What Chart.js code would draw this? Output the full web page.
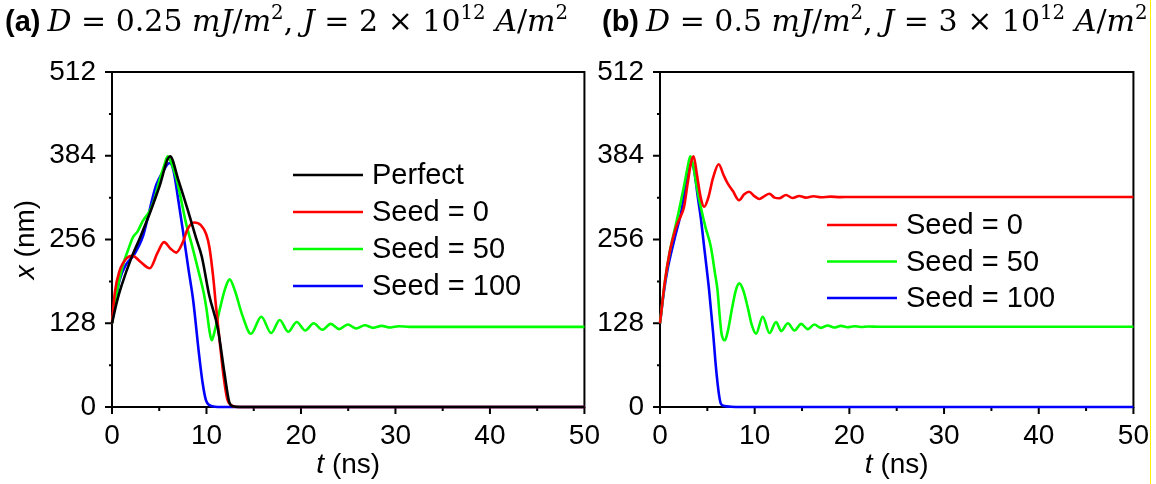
<!DOCTYPE html>
<html><head><meta charset="utf-8">
<script src="https://cdn.jsdelivr.net/npm/chart.js@4.4.1/dist/chart.umd.min.js"></script>
<style>
html,body{margin:0;padding:0;background:#fff;width:1156px;height:484px;overflow:hidden;position:relative}
canvas{position:absolute;top:0}
#ca{left:0}
#cb{left:556px}
.ttl{position:absolute;top:1px;white-space:nowrap;font-size:28px;line-height:40px;z-index:5;color:#000}
.ttl b{font-family:"Liberation Sans",Arial,sans-serif;font-weight:bold;font-size:29px}
.ttl .m{font-family:"DejaVu Serif",serif;font-size:30px}
.ttl sup{font-size:0.66em;vertical-align:0.6em;line-height:0}
#yl{position:absolute;left:1150px;top:0;width:1px;height:484px;background:#fff200;z-index:6}
</style></head>
<body>
<canvas id="ca" width="612" height="484"></canvas>
<canvas id="cb" width="605" height="484"></canvas>
<div class="ttl" id="ta" style="left:5px"><b>(a)</b> <span class="m"><i>D</i> = 0.25 <i>mJ</i>/<i>m</i><sup>2</sup>, <i>J</i> = 2 × 10<sup>12</sup> <i>A</i>/<i>m</i><sup>2</sup></span></div>
<div class="ttl" id="tb" style="left:602px"><b>(b)</b> <span class="m"><i>D</i> = 0.5 <i>mJ</i>/<i>m</i><sup>2</sup>, <i>J</i> = 3 × 10<sup>12</sup> <i>A</i>/<i>m</i><sup>2</sup></span></div>
<div id="yl"></div>
<script>
// ---- tick labels ----
const xTickLabels = [0, 10, 20, 30, 40, 50];
const xMinorTicks = [5, 15, 25, 35, 45];
const yTickLabels = [0, 128, 256, 384, 512];
const yMinorTicks = [64, 192, 320, 448];
const seriesLabels = ['Perfect', 'Seed = 0', 'Seed = 50', 'Seed = 100'];
const seriesColors = ['#000000', '#ff0000', '#00ff00', '#0000ff'];

// ---- panel (a) ----
const tA_perfect = [0, 0.5, 1, 2, 3, 4, 5, 6.15, 7, 8, 8.9, 9.5, 10.3, 11.2, 11.9, 12.4, 12.8, 13.5, 50];
const xA_perfect = [128, 160, 185, 226, 260, 296, 336, 383, 348, 302, 258, 230, 170, 120, 52, 8, 1, 0, 0];

const tA_seed0 = [0, 0.3, 0.8, 1.6, 2.2, 3.0, 4.0, 4.8, 5.5, 6.2, 6.8, 7.5, 8.0, 8.7, 9.4, 9.97, 10.3, 10.7, 11.0, 11.4, 11.8, 12.2, 12.6, 13.2, 50];
const xA_seed0 = [128, 175, 208, 228, 231, 222, 212, 235, 252, 242, 236, 252, 272, 282, 278, 264, 245, 200, 155, 100, 48, 12, 3, 0, 0];

const tA_seed50 = [0, 0.5, 1.1, 1.7, 2.2, 2.7, 3.25, 4.0, 4.5, 5.0, 5.5, 5.9, 6.3, 6.8, 7.3, 7.8, 8.5, 9.2, 9.7, 10.0, 10.3, 10.55, 10.9, 11.5, 12.0, 12.45, 13.0, 13.8, 14.7, 15.8, 16.85, 17.75, 18.65, 19.55, 20.45, 21.35, 22.25, 23.15, 24.05, 24.95, 25.85, 26.75, 27.65, 28.55, 29.45, 30.35, 31.5, 50];
const xA_seed50 = [128, 175, 214, 240, 259, 268, 284, 300, 318, 345, 368, 383, 372, 350, 318, 283, 245, 205, 175, 150, 118, 102, 118, 155, 182, 195, 178, 140, 112, 138, 113, 133, 115, 130, 117, 128, 118, 127, 119, 126, 120, 125, 121, 124, 121.5, 123.5, 122.5, 122.5];

const tA_seed100 = [0, 0.4, 0.8, 1.5, 2.3, 2.8, 3.3, 3.8, 4.3, 4.7, 5.4, 6.1, 6.5, 7.0, 7.5, 8.1, 8.6, 9.2, 9.6, 9.95, 10.3, 10.9, 11.6, 50];
const xA_seed100 = [128, 165, 194, 218, 232, 245, 262, 290, 320, 340, 360, 373, 362, 318, 270, 210, 162, 82, 36, 10, 3, 0.5, 0, 0];

// ---- panel (b) ----
const tB_seed0 = [0, 0.5, 1.0, 1.5, 1.83, 2.2, 2.54, 2.9, 3.3, 3.55, 3.9, 4.3, 4.66, 5.1, 5.6, 6.2, 6.7, 7.1, 7.7, 8.35, 8.9, 9.4, 10.0, 10.5, 11.0, 11.55, 12.1, 12.6, 13.3, 14.0, 14.7, 15.4, 16.2, 17.0, 18.0, 19.0, 20.0, 50];
const xB_seed0 = [128, 190, 235, 265, 280, 292, 306, 340, 375, 383, 355, 320, 306, 320, 350, 371, 355, 343, 330, 316, 325, 329, 322, 318, 322, 326, 320, 319, 324, 319.5, 322.5, 320, 322, 320.5, 321.5, 320.8, 321, 321];

const tB_seed50 = [0, 0.5, 1.0, 1.5, 2.0, 2.5, 2.9, 3.2, 3.5, 3.9, 4.3, 4.8, 5.37, 5.8, 6.07, 6.3, 6.5, 6.85, 7.15, 7.6, 8.0, 8.37, 8.8, 9.3, 9.7, 10.14, 10.85, 11.56, 12.26, 12.8, 13.5, 14.2, 14.9, 15.6, 16.3, 17.0, 17.7, 18.4, 19.1, 19.8, 20.5, 21.2, 22.0, 23.0, 50];
const xB_seed50 = [128, 190, 235, 268, 300, 335, 365, 383, 370, 335, 306, 275, 245, 205, 179, 140, 112, 102, 115, 150, 178, 189, 178, 150, 125, 112, 138, 113, 130, 116, 128, 117, 127, 119, 126, 121, 124.6, 121.5, 124, 122, 123.5, 122.3, 123, 122.6, 122.6];

const tB_seed100 = [0, 0.4, 0.78, 1.5, 2.19, 2.7, 3.0, 3.3, 3.6, 4.0, 4.3, 4.7, 5.19, 5.6, 5.9, 6.2, 6.43, 6.8, 7.5, 8.5, 50];
const xB_seed100 = [128, 175, 209, 255, 295, 335, 358, 373, 362, 320, 290, 240, 178, 115, 62, 22, 5, 1.5, 0.5, 0, 0];

function pts(ts, xs) { return ts.map((t, i) => ({ x: t, y: xs[i] })); }
function ds(label, color, ts, xs) {
  return { label, data: pts(ts, xs), borderColor: color, backgroundColor: color, borderWidth: 2.6,
    pointRadius: 0, cubicInterpolationMode: 'monotone', clip: 6, fill: false };
}

const FONT = '"Liberation Sans", Arial, sans-serif';

function decor(opt) {
  return {
    id: 'decor',
    beforeDatasetsDraw(chart) {
      const { ctx, chartArea: a, scales: { x, y } } = chart;
      ctx.save();
      ctx.strokeStyle = '#000'; ctx.lineWidth = 2;
      ctx.strokeRect(a.left, a.top, a.right - a.left, a.bottom - a.top);
      ctx.beginPath();
      xTickLabels.forEach(v => { const p = x.getPixelForValue(v); ctx.moveTo(p, a.bottom); ctx.lineTo(p, a.bottom + 7); });
      xMinorTicks.forEach(v => { const p = x.getPixelForValue(v); ctx.moveTo(p, a.bottom); ctx.lineTo(p, a.bottom + 4); });
      yTickLabels.forEach(v => { const p = y.getPixelForValue(v); ctx.moveTo(a.left, p); ctx.lineTo(a.left - 7, p); });
      yMinorTicks.forEach(v => { const p = y.getPixelForValue(v); ctx.moveTo(a.left, p); ctx.lineTo(a.left - 3, p); });
      ctx.stroke();
      ctx.restore();
    },
    afterDraw(chart) {
      const { ctx, chartArea: a } = chart;
      ctx.save();
      ctx.fillStyle = '#000';
      ctx.textBaseline = 'middle';
      // x-axis title
      const cx = (a.left + a.right) / 2;
      ctx.font = 'italic 28px ' + FONT;
      const w1 = ctx.measureText('t').width;
      ctx.font = '28px ' + FONT;
      const w2 = ctx.measureText(' (ns)').width;
      let sx = cx - (w1 + w2) / 2;
      ctx.textAlign = 'left';
      ctx.font = 'italic 28px ' + FONT; ctx.fillText('t', sx, 465);
      ctx.font = '28px ' + FONT; ctx.fillText(' (ns)', sx + w1, 465);
      // y-axis title
      if (opt.yTitle) {
        ctx.save();
        ctx.translate(opt.yTitleX, (a.top + a.bottom) / 2);
        ctx.rotate(-Math.PI / 2);
        ctx.font = 'italic 28px ' + FONT;
        const v1 = ctx.measureText('x').width;
        ctx.font = '28px ' + FONT;
        const v2 = ctx.measureText(' (nm)').width;
        const s = -(v1 + v2) / 2;
        ctx.font = 'italic 28px ' + FONT; ctx.fillText('x', s, 0);
        ctx.font = '28px ' + FONT; ctx.fillText(' (nm)', s + v1, 0);
        ctx.restore();
      }
      // legend
      ctx.font = '29px ' + FONT;
      chart.data.datasets.forEach((d, i) => {
        const yy = opt.legY + i * opt.legStep;
        ctx.strokeStyle = d.borderColor; ctx.lineWidth = 2.5;
        ctx.beginPath(); ctx.moveTo(opt.legX, yy); ctx.lineTo(opt.legX + opt.legLen, yy); ctx.stroke();
        ctx.fillText(d.label, opt.legX + opt.legLen + 9, yy + 1);
      });
      ctx.restore();
    }
  };
}

function makeChart(id, datasets, padLeft, yWidth, padRight, opt) {
  return new Chart(document.getElementById(id), {
    type: 'line',
    data: { datasets },
    options: {
      responsive: false, animation: false, devicePixelRatio: 1,
      layout: { autoPadding: false, padding: { top: 72, left: padLeft, right: padRight, bottom: 0 } },
      plugins: { legend: { display: false }, tooltip: { enabled: false }, title: { display: false } },
      scales: {
        x: { type: 'linear', min: 0, max: 50,
          grid: { display: false, drawTicks: false }, border: { display: false },
          ticks: { stepSize: 10, padding: 12, color: '#000', font: { family: FONT, size: 28 }, maxRotation: 0 },
          afterFit(s) { s.height = 77; } },
        y: { type: 'linear', min: 0, max: 512,
          grid: { display: false, drawTicks: false }, border: { display: false },
          ticks: { stepSize: 128, padding: 16, color: '#000', font: { family: FONT, size: 28 } },
          afterFit(s) { s.width = yWidth; } }
      }
    },
    plugins: [decor(opt)]
  });
}

makeChart('ca', [
  ds(seriesLabels[0], seriesColors[0], tA_perfect, xA_perfect),
  ds(seriesLabels[1], seriesColors[1], tA_seed0, xA_seed0),
  ds(seriesLabels[2], seriesColors[2], tA_seed50, xA_seed50),
  ds(seriesLabels[3], seriesColors[3], tA_seed100, xA_seed100)
], 0, 112, 0, { yTitle: true, yTitleX: 26, legX: 293, legY: 175, legStep: 37, legLen: 70 });

makeChart('cb', [
  ds(seriesLabels[1], seriesColors[1], tB_seed0, xB_seed0),
  ds(seriesLabels[2], seriesColors[2], tB_seed50, xB_seed50),
  ds(seriesLabels[3], seriesColors[3], tB_seed100, xB_seed100)
], 0, 104, 0, { yTitle: false, legX: 827 - 556, legY: 225, legStep: 36.5, legLen: 70 });
</script>
</body></html>
